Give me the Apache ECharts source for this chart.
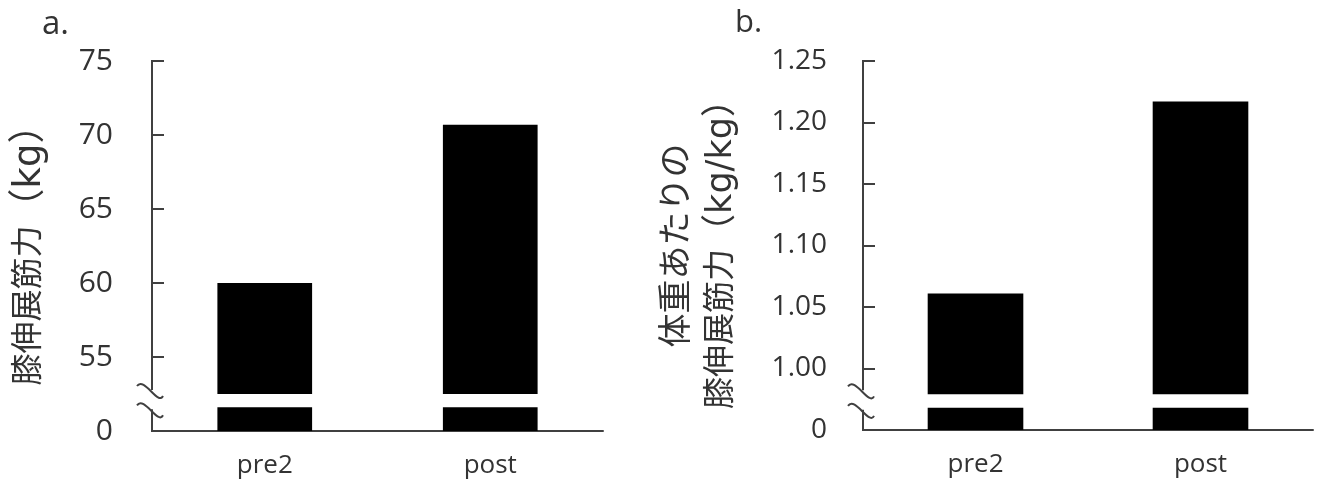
<!DOCTYPE html>
<html>
<head>
<meta charset="utf-8">
<script src="https://cdn.jsdelivr.net/npm/echarts@6/dist/echarts.min.js"></script>
<style>
  html, body { margin: 0; padding: 0; background: #fff; }
  #chart { width: 1319px; height: 486px; }
</style>
</head>
<body>
<div id="chart"></div>
<script>
// Knee extension strength, before (pre2) and after (post)
const categories = ['pre2', 'post'];

// a. absolute strength (kg)
const strengthKg = [60.0, 70.7];
const axisA = { min: 50, max: 75, interval: 5 };
const tickLabelsA = ['0', '55', '60', '65', '70', '75'];
const breakA = [51.6, 52.5];           // broken span of the y axis

// b. strength per body weight (kg/kg)
const strengthPerKg = [1.061, 1.217];
const axisB = { min: 0.95, max: 1.25, interval: 0.05 };
const tickLabelsB = ['0', '1.00', '1.05', '1.10', '1.15', '1.20', '1.25'];
const breakB = [0.968, 0.979];

// axis titles (rich-text markup: c = kanji, u = unit, w = wide line)
const titleA = '{c|膝伸展筋力}{u|（kg）}';
const titleB = '{w|体重あたりの}\n{c|膝伸展筋力}{u|（kg/kg）}';

const INK = '#404040';
const TEXT = '#333';
const LATIN = "'Open Sans', 'Noto Sans', 'Noto Sans CJK JP', sans-serif";
const TITLE_FONT = "'DejaVu Sans', 'Noto Sans CJK JP', sans-serif";

// y axis line drawn in two pieces, with a double squiggle marking the break
function brokenAxis(idx, brk) {
  return {
    type: 'custom',
    xAxisIndex: idx, yAxisIndex: idx,
    silent: true, z: 6,
    data: [brk],
    renderItem(params, api) {
      const cs = params.coordSys;
      const x = cs.x;
      const top = cs.y;
      const bottom = cs.y + cs.height;
      const yHi = api.coord([0, api.value(1)])[1] - 4;
      const yLo = api.coord([0, api.value(0)])[1] + 2;
      const style = { stroke: INK, lineWidth: 2, fill: null };
      const squiggle = c => ({
        type: 'bezierCurve',
        shape: { x1: x - 15, y1: c - 4, cpx1: x - 8, cpy1: c - 14, cpx2: x + 6, cpy2: c + 16, x2: x + 11, y2: c + 6 },
        style
      });
      return {
        type: 'group',
        children: [
          { type: 'line', shape: { x1: x, y1: top - 1, x2: x, y2: yHi }, style },
          squiggle(yHi),
          squiggle(yLo),
          { type: 'line', shape: { x1: x, y1: yLo, x2: x, y2: bottom + 1 }, style }
        ]
      };
    }
  };
}

// bars split into a lower stub, an empty gap and the main body (stack sums to the value)
function brokenBars(idx, values, brk, width) {
  const base = { type: 'bar', xAxisIndex: idx, yAxisIndex: idx, stack: 'bar' + idx, barWidth: width, silent: true };
  return [
    Object.assign({}, base, { data: values.map(() => brk[0]), itemStyle: { color: '#000' } }),
    Object.assign({}, base, { data: values.map(() => brk[1] - brk[0]), itemStyle: { color: 'rgba(0,0,0,0)' } }),
    Object.assign({}, base, { data: values.map(v => v - brk[1]), itemStyle: { color: '#000' } })
  ];
}

function xAxis(idx) {
  return {
    type: 'category', gridIndex: idx, data: categories,
    axisLine: { show: true, lineStyle: { color: INK, width: 2 } },
    axisTick: { show: false },
    axisLabel: { color: TEXT, fontSize: 26, fontFamily: LATIN, margin: 22 }
  };
}

function yAxis(idx, ax, labels, name, fontSize, labelMargin, nameGap, unitSize) {
  const lh = 44;
  return {
    type: 'value', gridIndex: idx,
    min: ax.min, max: ax.max, interval: ax.interval,
    splitLine: { show: false },
    axisLine: { show: false },
    axisTick: { show: true, inside: true, length: 12, lineStyle: { color: INK, width: 2 } },
    axisLabel: {
      color: TEXT, fontSize, fontFamily: LATIN, margin: labelMargin,
      formatter: (v, i) => labels[i]
    },
    name,
    nameLocation: 'middle',
    nameGap,
    nameRotate: 90,
    nameTextStyle: {
      color: TEXT, fontSize: 32, fontFamily: TITLE_FONT, align: 'center', lineHeight: lh,
      rich: {
        c: { color: TEXT, fontSize: 32, fontFamily: TITLE_FONT, lineHeight: lh },
        u: { color: TEXT, fontSize: unitSize, fontFamily: TITLE_FONT, lineHeight: lh },
        w: { color: TEXT, fontSize: 34, fontFamily: TITLE_FONT, lineHeight: lh }
      }
    }
  };
}

const chart = echarts.init(document.getElementById('chart'), null, { renderer: 'canvas' });
chart.setOption({
  animation: false,
  backgroundColor: '#fff',
  title: [
    { text: 'a.', left: 37, top: 3, textStyle: { color: TEXT, fontSize: 33, fontWeight: 'normal', fontFamily: LATIN } },
    { text: 'b.', left: 730, top: 3, textStyle: { color: TEXT, fontSize: 31, fontWeight: 'normal', fontFamily: LATIN } }
  ],
  grid: [
    { left: 152, top: 61, width: 451, height: 370 },
    { left: 863, top: 61, width: 450, height: 369 }
  ],
  xAxis: [xAxis(0), xAxis(1)],
  yAxis: [
    yAxis(0, axisA, tickLabelsA, titleA, 30, 39, 100, 37),
    yAxis(1, axisB, tickLabelsB, titleB, 28, 36, 119, 35)
  ],
  series: [
    ...brokenBars(0, strengthKg, breakA, '42%'),
    ...brokenBars(1, strengthPerKg, breakB, '42.5%'),
    brokenAxis(0, breakA),
    brokenAxis(1, breakB)
  ]
});
</script>
</body>
</html>
